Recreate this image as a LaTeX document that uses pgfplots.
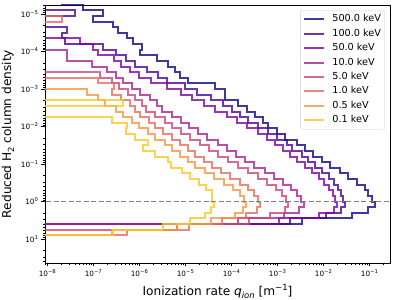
\documentclass[border=0pt]{standalone}
\usepackage{fontspec}
\setmainfont{DejaVu Sans}
\usepackage{pgfplots}
\pgfplotsset{compat=1.18}
\definecolor{c500}{HTML}{0D0887}
\definecolor{c100}{HTML}{4C02A1}
\definecolor{c50}{HTML}{7E03A8}
\definecolor{c10}{HTML}{A82296}
\definecolor{c5}{HTML}{CC4778}
\definecolor{c1}{HTML}{E56B5D}
\definecolor{c05}{HTML}{F89540}
\definecolor{c01}{HTML}{FDC527}
\newcommand{\pw}[1]{10\raisebox{0.42em}{\fontsize{5.3}{6}\selectfont #1}}
\tikzset{curve/.style={line width=2bp, draw opacity=0.8}}
\begin{document}
\begin{tikzpicture}
\begin{axis}[
  scale only axis, width=345bp, height=258bp,
  xmode=log, ymode=log, y dir=reverse,
  xmin=8.9e-9, xmax=0.28, ymin=5.75e-6, ymax=43.6,
  xtick={1e-8,1e-7,1e-6,1e-5,1e-4,1e-3,1e-2,1e-1},
  xticklabels={\pw{−8},\pw{−7},\pw{−6},\pw{−5},\pw{−4},\pw{−3},\pw{−2},\pw{−1}},
  ytick={1e-5,1e-4,1e-3,1e-2,1e-1,1,10},
  yticklabels={\pw{−5},\pw{−4},\pw{−3},\pw{−2},\pw{−1},\pw{0},\pw{1}},
  minor xtick={9e-9,2e-8,3e-8,4e-8,5e-8,6e-8,7e-8,8e-8,9e-8,2e-7,3e-7,4e-7,5e-7,6e-7,7e-7,8e-7,9e-7,2e-6,3e-6,4e-6,5e-6,6e-6,7e-6,8e-6,9e-6,2e-5,3e-5,4e-5,5e-5,6e-5,7e-5,8e-5,9e-5,2e-4,3e-4,4e-4,5e-4,6e-4,7e-4,8e-4,9e-4,2e-3,3e-3,4e-3,5e-3,6e-3,7e-3,8e-3,9e-3,2e-2,3e-2,4e-2,5e-2,6e-2,7e-2,8e-2,9e-2,2e-1},
  minor ytick={6e-6,7e-6,8e-6,9e-6,2e-5,3e-5,4e-5,5e-5,6e-5,7e-5,8e-5,9e-5,2e-4,3e-4,4e-4,5e-4,6e-4,7e-4,8e-4,9e-4,2e-3,3e-3,4e-3,5e-3,6e-3,7e-3,8e-3,9e-3,2e-2,3e-2,4e-2,5e-2,6e-2,7e-2,8e-2,9e-2,0.2,0.3,0.4,0.5,0.6,0.7,0.8,0.9,2,3,4,5,6,7,8,9,20,30,40},
  xtick pos=left, xticklabel pos=left, ytick pos=left,
  tick align=outside,
  major tick length=3.5bp, minor tick length=2bp,
  every tick/.style={black, line width=0.6bp},
  axis line style={line width=0.8bp},
  ticklabel style={font=\fontsize{7.3}{8}\selectfont},
  label style={font=\fontsize{12.2}{14}\selectfont},
  xlabel={Ionization rate {\itshape q}\raisebox{-0.25em}{\fontsize{8.5}{9}\selectfont\itshape ion} [m\raisebox{0.45em}{\fontsize{8.5}{9}\selectfont −1}]},
  ylabel={Reduced H\raisebox{-0.25em}{\fontsize{8.5}{9}\selectfont 2} column density},
  legend style={at={(axis cs:0.2193,7.82e-6)}, anchor=north east, draw=black!20, rounded corners=2bp,
    fill=white, fill opacity=0.8, text opacity=1, font=\fontsize{9.7}{11}\selectfont,
    inner xsep=3bp, inner ysep=3.6bp, row sep=3.4bp, column sep=6bp,
    nodes={inner sep=1bp, text height=7bp, text depth=2bp}},
  legend cell align=left,
  legend image code/.code={\draw[#1] (0bp,0bp) -- (20bp,0bp);},
]
\coordinate (BL) at (axis cs:8.9e-9,43.6);
% 500 keV
\addplot[c500, curve] table[x expr=10^(\thisrow{x}), y expr=10^(\thisrow{y})] {
x y
-7.69 -5.4
-7.69 -5.25
-7.215 -5.25
-7.215 -5.1
-6.79 -5.1
-6.79 -4.95
-7.0 -4.95
-7.0 -4.8
-6.565 -4.8
-6.565 -4.65
-6.457 -4.65
-6.457 -4.5
-6.274 -4.5
-6.274 -4.35
-6.13 -4.35
-6.13 -4.2
-5.948 -4.2
-5.948 -4.05
-5.985 -4.05
-5.985 -3.9
-5.622 -3.9
-5.622 -3.75
-5.37 -3.75
-5.37 -3.6
-5.224 -3.6
-5.224 -3.45
-5.115 -3.45
-5.115 -3.3
-4.935 -3.3
-4.935 -3.15
-4.354 -3.15
-4.354 -3.0
-4.137 -3.0
-4.137 -2.7
-3.848 -2.7
-3.848 -2.55
-3.665 -2.55
-3.665 -2.4
-3.485 -2.4
-3.485 -2.25
-3.304 -2.25
-3.304 -2.1
-3.196 -2.1
-3.196 -1.95
-3.013 -1.95
-3.013 -1.8
-2.833 -1.8
-2.833 -1.65
-2.578 -1.65
-2.578 -1.5
-2.398 -1.5
-2.398 -1.35
-2.217 -1.35
-2.217 -1.2
-2.035 -1.2
-2.035 -1.05
-1.854 -1.05
-1.854 -0.9
-1.637 -0.9
-1.637 -0.75
-1.457 -0.75
-1.457 -0.6
-1.274 -0.6
-1.274 -0.45
-1.093 -0.45
-1.093 -0.3
-1.022 -0.3
-1.022 -0.15
-0.948 -0.15
-0.948 0
-0.876 0
-0.876 0.15
-1.022 0.15
-1.022 0.3
-1.383 0.3
-1.383 0.45
-2.47 0.45
-2.47 0.6
-9 0.6
-9 1.2
};
\addlegendentry{500.0 keV}
% 100 keV
\addplot[c100, curve] table[x expr=10^(\thisrow{x}), y expr=10^(\thisrow{y})] {
x y
-9 -5.4
-9 -5.1
-7.4 -5.1
-7.4 -4.95
-9 -4.95
-9 -4.65
-7.58 -4.65
-7.58 -4.5
-7.69 -4.5
-7.69 -4.35
-7.62 -4.35
-7.62 -4.2
-6.78 -4.2
-6.78 -4.05
-6.5 -4.05
-6.5 -3.9
-6.3 -3.9
-6.3 -3.75
-6.1 -3.75
-6.1 -3.6
-5.84 -3.6
-5.84 -3.45
-5.59 -3.45
-5.59 -3.3
-5.4 -3.3
-5.4 -3.15
-5.0 -3.15
-5.0 -3.0
-4.75 -3.0
-4.75 -2.85
-4.45 -2.85
-4.45 -2.7
-4.18 -2.7
-4.18 -2.55
-3.991 -2.55
-3.991 -2.4
-3.811 -2.4
-3.811 -2.25
-3.63 -2.25
-3.63 -2.1
-3.413 -2.1
-3.413 -1.95
-3.196 -1.95
-3.196 -1.8
-3.013 -1.8
-3.013 -1.65
-2.796 -1.65
-2.796 -1.5
-2.687 -1.5
-2.687 -1.35
-2.47 -1.35
-2.47 -1.2
-2.326 -1.2
-2.326 -1.05
-2.18 -1.05
-2.18 -0.9
-2.02 -0.9
-2.02 -0.75
-1.88 -0.75
-1.88 -0.6
-1.78 -0.6
-1.78 -0.45
-1.68 -0.45
-1.68 -0.3
-1.62 -0.3
-1.62 -0.15
-1.57 -0.15
-1.57 0
-1.53 0
-1.53 0.15
-1.62 0.15
-1.62 0.3
-1.95 0.3
-1.95 0.45
-2.72 0.45
-2.72 0.6
-9 0.6
-9 1.2
};
\addlegendentry{100.0 keV}
% 50 keV
\addplot[c50, curve] table[x expr=10^(\thisrow{x}), y expr=10^(\thisrow{y})] {
x y
-9 -5.4
-9 -4.35
-7.3 -4.35
-7.3 -4.2
-7.0 -4.2
-7.0 -4.05
-6.9 -4.05
-6.9 -3.9
-6.55 -3.9
-6.55 -3.75
-6.4 -3.75
-6.4 -3.6
-6.2 -3.6
-6.2 -3.45
-6.0 -3.45
-6.0 -3.3
-5.75 -3.3
-5.75 -3.15
-5.4 -3.15
-5.4 -3.0
-5.1 -3.0
-5.1 -2.85
-4.85 -2.85
-4.85 -2.7
-4.6 -2.7
-4.6 -2.55
-4.35 -2.55
-4.35 -2.4
-4.1 -2.4
-4.1 -2.25
-3.883 -2.25
-3.883 -2.1
-3.665 -2.1
-3.665 -1.95
-3.413 -1.95
-3.413 -1.8
-3.23 -1.8
-3.23 -1.65
-3.05 -1.65
-3.05 -1.5
-2.87 -1.5
-2.87 -1.35
-2.724 -1.35
-2.724 -1.2
-2.578 -1.2
-2.578 -1.05
-2.398 -1.05
-2.398 -0.9
-2.252 -0.9
-2.252 -0.75
-2.1 -0.75
-2.1 -0.6
-1.98 -0.6
-1.98 -0.45
-1.88 -0.45
-1.88 -0.3
-1.8 -0.3
-1.8 -0.15
-1.75 -0.15
-1.75 0
-1.70 0
-1.70 0.15
-1.78 0.15
-1.78 0.3
-2.1 0.3
-2.1 0.45
-2.96 0.45
-2.96 0.6
-9 0.6
-9 1.2
};
\addlegendentry{50.0 keV}
% 10 keV
\addplot[c10, curve] table[x expr=10^(\thisrow{x}), y expr=10^(\thisrow{y})] {
x y
-9 -5.4
-9 -4.05
-7.58 -4.05
-7.58 -3.75
-7.03 -3.75
-7.03 -3.6
-6.71 -3.6
-6.71 -3.45
-6.5 -3.45
-6.5 -3.3
-6.35 -3.3
-6.35 -3.15
-6.15 -3.15
-6.15 -3.0
-5.98 -3.0
-5.98 -2.85
-5.77 -2.85
-5.77 -2.7
-5.62 -2.7
-5.62 -2.55
-5.51 -2.55
-5.51 -2.4
-5.3 -2.4
-5.3 -2.25
-5.1 -2.25
-5.1 -2.1
-4.93 -2.1
-4.93 -1.95
-4.72 -1.95
-4.72 -1.8
-4.52 -1.8
-4.52 -1.65
-4.3 -1.65
-4.3 -1.5
-4.1 -1.5
-4.1 -1.35
-3.9 -1.35
-3.9 -1.2
-3.7 -1.2
-3.7 -1.05
-3.5 -1.05
-3.5 -0.9
-3.28 -0.9
-3.28 -0.75
-3.07 -0.75
-3.07 -0.6
-2.88 -0.6
-2.88 -0.45
-2.7 -0.45
-2.7 -0.3
-2.57 -0.3
-2.57 -0.15
-2.48 -0.15
-2.48 0
-2.43 0
-2.43 0.15
-2.52 0.15
-2.52 0.3
-2.85 0.3
-2.85 0.45
-3.85 0.45
-3.85 0.6
-9 0.6
-9 1.2
};
\addlegendentry{10.0 keV}
% 5 keV
\addplot[c5, curve] table[x expr=10^(\thisrow{x}), y expr=10^(\thisrow{y})] {
x y
-9 -5.4
-9 -3.45
-6.85 -3.45
-6.85 -3.3
-6.6 -3.3
-6.6 -3.15
-6.45 -3.15
-6.45 -3.0
-6.25 -3.0
-6.25 -2.85
-6.1 -2.85
-6.1 -2.7
-5.95 -2.7
-5.95 -2.55
-5.85 -2.55
-5.85 -2.4
-5.65 -2.4
-5.65 -2.25
-5.45 -2.25
-5.45 -2.1
-5.3 -2.1
-5.3 -1.95
-5.1 -1.95
-5.1 -1.8
-4.9 -1.8
-4.9 -1.65
-4.68 -1.65
-4.68 -1.5
-4.48 -1.5
-4.48 -1.35
-4.28 -1.35
-4.28 -1.2
-4.08 -1.2
-4.08 -1.05
-3.86 -1.05
-3.86 -0.9
-3.64 -0.9
-3.64 -0.75
-3.43 -0.75
-3.43 -0.6
-3.22 -0.6
-3.22 -0.45
-3.03 -0.45
-3.03 -0.3
-2.9 -0.3
-2.9 -0.15
-2.81 -0.15
-2.81 0
-2.77 0
-2.77 0.15
-2.84 0.15
-2.84 0.3
-3.15 0.3
-3.15 0.45
-3.62 0.45
-3.62 0.6
-5.19 0.6
-5.19 0.75
-9 0.75
-9 1.2
};
\addlegendentry{5.0 keV}
% 1 keV
\addplot[c1, curve] table[x expr=10^(\thisrow{x}), y expr=10^(\thisrow{y})] {
x y
-9 -5.4
-9 -4.95
-7.69 -4.95
-7.69 -4.8
-9 -4.8
-9 -3.3
-6.89 -3.3
-6.89 -3.15
-6.55 -3.15
-6.55 -3.0
-6.6 -3.0
-6.6 -2.85
-6.4 -2.85
-6.4 -2.7
-6.2 -2.7
-6.2 -2.55
-6.1 -2.55
-6.1 -2.4
-5.98 -2.4
-5.98 -2.25
-5.8 -2.25
-5.8 -2.1
-5.65 -2.1
-5.65 -1.95
-5.48 -1.95
-5.48 -1.8
-5.3 -1.8
-5.3 -1.65
-5.12 -1.65
-5.12 -1.5
-4.95 -1.5
-4.95 -1.35
-4.78 -1.35
-4.78 -1.2
-4.6 -1.2
-4.6 -1.05
-4.42 -1.05
-4.42 -0.9
-4.22 -0.9
-4.22 -0.75
-4.02 -0.75
-4.02 -0.6
-3.82 -0.6
-3.82 -0.45
-3.63 -0.45
-3.63 -0.3
-3.5 -0.3
-3.5 -0.15
-3.42 -0.15
-3.42 0
-3.38 0
-3.38 0.15
-3.45 0.15
-3.45 0.3
-3.68 0.3
-3.68 0.45
-4.2 0.45
-4.2 0.6
-4.93 0.6
-4.93 0.75
-6.27 0.75
-6.27 0.9
-9 0.9
-9 1.2
};
\addlegendentry{1.0 keV}
% 0.5 keV
\addplot[c05, curve] table[x expr=10^(\thisrow{x}), y expr=10^(\thisrow{y})] {
x y
-9 -5.4
-9 -3.0
-7.14 -3.0
-7.14 -2.85
-6.9 -2.85
-6.9 -2.7
-6.75 -2.7
-6.75 -2.55
-6.5 -2.55
-6.5 -2.4
-6.35 -2.4
-6.35 -2.25
-6.15 -2.25
-6.15 -2.1
-6.0 -2.1
-6.0 -1.95
-5.82 -1.95
-5.82 -1.8
-5.65 -1.8
-5.65 -1.65
-5.45 -1.65
-5.45 -1.5
-5.3 -1.5
-5.3 -1.35
-5.12 -1.35
-5.12 -1.2
-4.95 -1.2
-4.95 -1.05
-4.78 -1.05
-4.78 -0.9
-4.58 -0.9
-4.58 -0.75
-4.38 -0.75
-4.38 -0.6
-4.17 -0.6
-4.17 -0.45
-3.97 -0.45
-3.97 -0.3
-3.82 -0.3
-3.82 -0.15
-3.73 -0.15
-3.73 0
-3.69 0
-3.69 0.15
-3.75 0.15
-3.75 0.3
-3.92 0.3
-3.92 0.45
-4.45 0.45
-4.45 0.6
-5.19 0.6
-5.19 0.75
-6.6 0.75
-6.6 0.9
-9 0.9
-9 1.2
};
\addlegendentry{0.5 keV}
% 0.1 keV
\addplot[c01, curve] table[x expr=10^(\thisrow{x}), y expr=10^(\thisrow{y})] {
x y
-9 -5.4
-9 -2.7
-6.35 -2.7
-6.35 -2.55
-9 -2.55
-9 -2.25
-6.6 -2.25
-6.6 -2.1
-6.27 -2.1
-6.27 -1.95
-6.3 -1.95
-6.3 -1.8
-6.09 -1.8
-6.09 -1.65
-5.804 -1.65
-5.804 -1.5
-5.913 -1.5
-5.913 -1.35
-5.659 -1.35
-5.659 -1.2
-5.37 -1.2
-5.37 -1.05
-5.311 -1.05
-5.311 -0.9
-5.078 -0.9
-5.078 -0.75
-4.898 -0.75
-4.898 -0.6
-4.702 -0.6
-4.702 -0.45
-4.557 -0.45
-4.557 -0.3
-4.413 -0.3
-4.413 0
-4.37 0
-4.37 0.15
-4.441 0.15
-4.441 0.3
-4.572 0.3
-4.572 0.45
-4.9 0.45
-4.9 0.6
-5.478 0.6
-5.478 0.75
-6.565 0.75
-6.565 0.9
-9 0.9
-9 1.2
};
\addlegendentry{0.1 keV}
\addplot[gray, line width=1bp, dash pattern=on 5bp off 2.5bp, forget plot] coordinates {(1e-9,1) (1,1)};
\end{axis}
\pgfresetboundingbox
\path[use as bounding box] ([shift={(-45bp,-37bp)}]BL) rectangle ([shift={(351bp,263bp)}]BL);
\end{tikzpicture}
\end{document}
